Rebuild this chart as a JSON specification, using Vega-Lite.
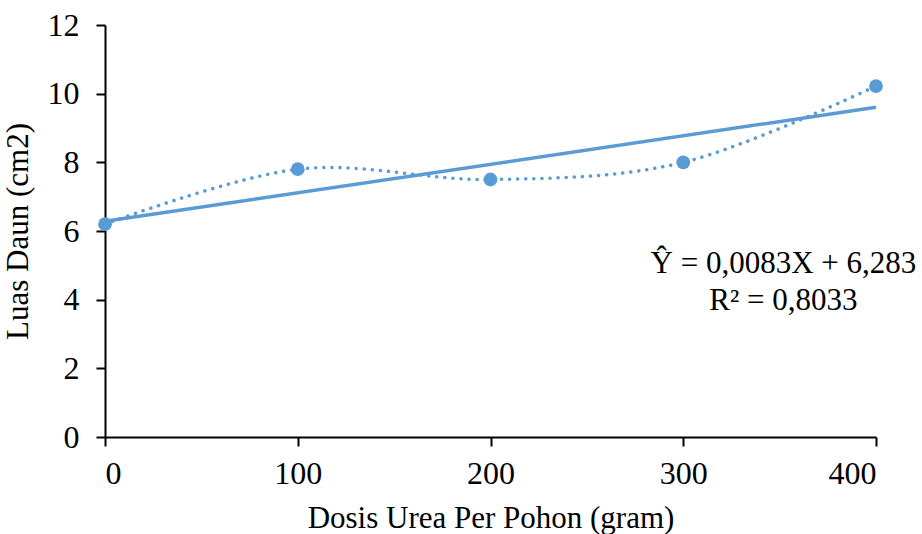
{
  "$schema": "https://vega.github.io/schema/vega-lite/v6.json",
  "width": 771,
  "height": 412,
  "autosize": "none",
  "padding": {"left": 105, "top": 25, "right": 46, "bottom": 97},
  "background": "white",
  "config": {
    "view": {"stroke": null},
    "font": "Liberation Serif",
    "axis": {
      "labelFont": "Liberation Serif",
      "titleFont": "Liberation Serif",
      "labelFontSize": 32,
      "titleFontSize": 31,
      "labelColor": "black",
      "titleColor": "black",
      "titleFontWeight": "normal",
      "domainColor": "black",
      "tickColor": "black",
      "domainWidth": 2,
      "tickWidth": 2,
      "grid": false
    }
  },
  "datasets": {
    "obs": [
      {"dosis": 0, "luas": 6.2},
      {"dosis": 100, "luas": 7.8},
      {"dosis": 200, "luas": 7.5},
      {"dosis": 300, "luas": 8.0},
      {"dosis": 400, "luas": 10.22}
    ],
    "trend": [
      {"dosis": 0, "luas": 6.283},
      {"dosis": 400, "luas": 9.603}
    ],
    "eq": [
      {"dosis": 352, "luas": 4.78, "label": "Ŷ = 0,0083X + 6,283"},
      {"dosis": 352, "luas": 3.7, "label": "R² = 0,8033"}
    ]
  },
  "layer": [
    {
      "data": {"name": "obs"},
      "mark": {"type": "line", "interpolate": "cardinal", "color": "#5B9BD5", "strokeWidth": 3.5, "strokeDash": [0.1, 8], "strokeCap": "round"},
      "encoding": {
        "x": {"field": "dosis", "type": "quantitative", "scale": {"domain": [0, 400], "nice": false}, "axis": {"values": [0, 100, 200, 300, 400], "title": "Dosis Urea Per Pohon (gram)", "tickSize": 9, "labelPadding": 12, "titlePadding": 14}},
        "y": {"field": "luas", "type": "quantitative", "scale": {"domain": [0, 12], "nice": false}, "axis": {"values": [0, 2, 4, 6, 8, 10, 12], "title": "Luas Daun (cm2)", "tickSize": 9, "labelPadding": 17, "titlePadding": 13}}
      }
    },
    {
      "data": {"name": "trend"},
      "mark": {"type": "line", "color": "#5B9BD5", "strokeWidth": 3.5},
      "encoding": {
        "x": {"field": "dosis", "type": "quantitative"},
        "y": {"field": "luas", "type": "quantitative"}
      }
    },
    {
      "data": {"name": "obs"},
      "mark": {"type": "point", "filled": true, "color": "#5B9BD5", "size": 190, "opacity": 1},
      "encoding": {
        "x": {"field": "dosis", "type": "quantitative"},
        "y": {"field": "luas", "type": "quantitative"}
      }
    },
    {
      "data": {"name": "eq"},
      "mark": {"type": "text", "font": "Liberation Serif", "fontSize": 31, "color": "black", "align": "center", "baseline": "alphabetic"},
      "encoding": {
        "x": {"field": "dosis", "type": "quantitative"},
        "y": {"field": "luas", "type": "quantitative"},
        "text": {"field": "label"}
      }
    }
  ]
}
